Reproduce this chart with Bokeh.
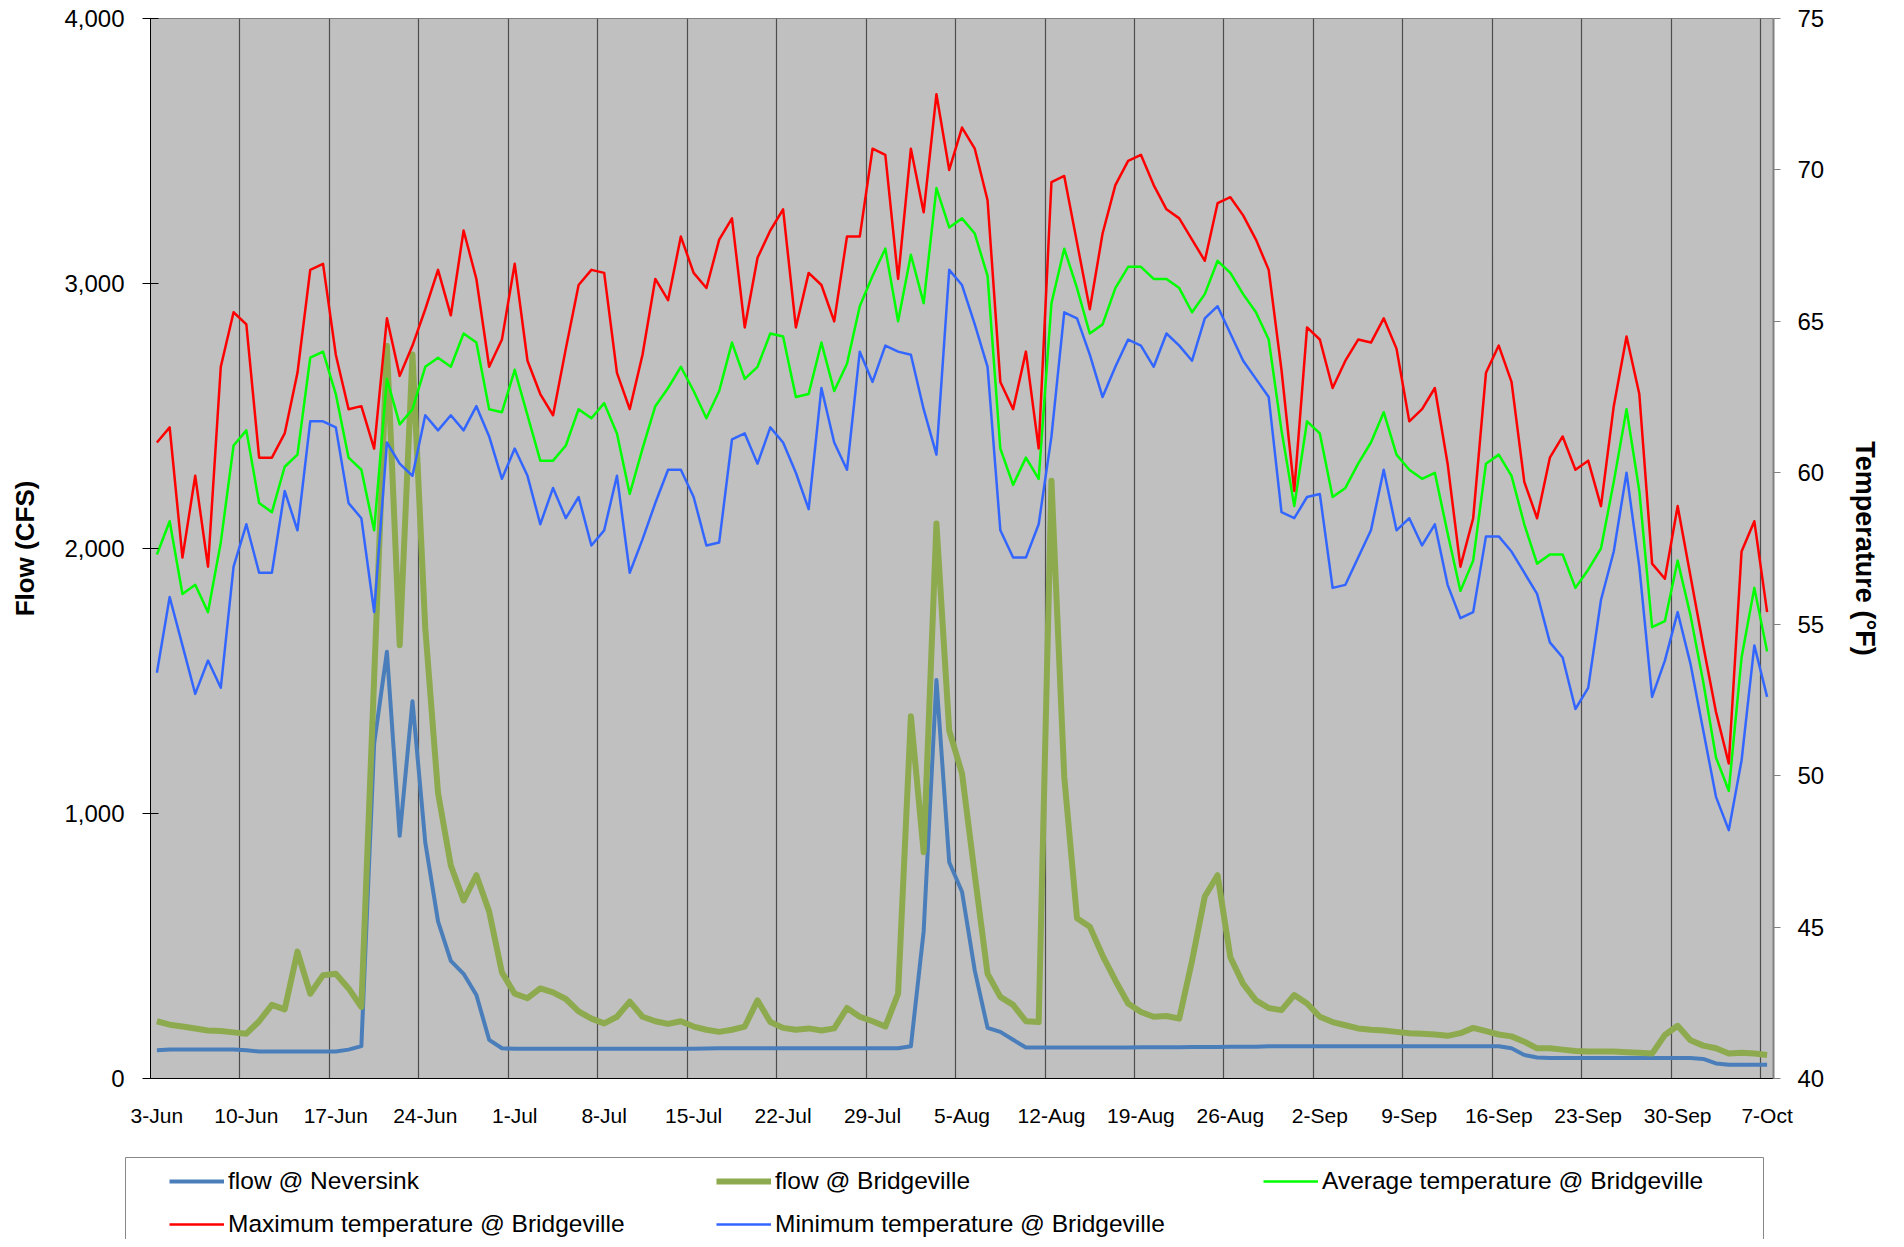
from bokeh.plotting import figure
from bokeh.models import (Range1d, LinearAxis, FixedTicker, NumeralTickFormatter,
                          Legend, LegendItem)
from bokeh.layouts import column
from bokeh.embed import file_html
from bokeh.resources import INLINE

# ---- data (daily, 3-Jun .. 7-Oct, 127 days) ----
tick_labels = ["3-Jun", "10-Jun", "17-Jun", "24-Jun", "1-Jul", "8-Jul", "15-Jul", "22-Jul",
               "29-Jul", "5-Aug", "12-Aug", "19-Aug", "26-Aug", "2-Sep", "9-Sep", "16-Sep",
               "23-Sep", "30-Sep", "7-Oct"]

flow_neversink = [107, 109, 109, 109, 109, 109, 109, 107, 102, 102,
                  102, 102, 102, 102, 102, 109, 122, 1263, 1610, 916,
                  1424, 891, 593, 444, 395, 315, 146, 114, 112, 112,
                  112, 112, 112, 112, 112, 112, 112, 112, 112, 112,
                  112, 112, 112, 113, 114, 114, 114, 114, 114, 114,
                  114, 114, 114, 114, 114, 114, 114, 114, 114, 122,
                  556, 1504, 816, 705, 407, 191, 176, 146, 117, 117,
                  117, 117, 117, 117, 117, 117, 117, 118, 118, 118,
                  118, 119, 119, 119, 120, 120, 120, 122, 122, 122,
                  122, 122, 122, 122, 122, 122, 122, 122, 122, 122,
                  122, 122, 122, 122, 122, 122, 114, 89, 79, 77,
                  77, 77, 77, 77, 77, 77, 77, 77, 77, 77,
                  77, 74, 57, 52, 52, 52, 52]

flow_bridgeville = [216, 203, 196, 189, 181, 179, 174, 169, 216, 278,
                    261, 479, 320, 390, 395, 340, 270, 1510, 2764, 1635,
                    2732, 1700, 1077, 804, 672, 767, 630, 400, 320, 303,
                    340, 325, 300, 253, 226, 208, 233, 290, 233, 216,
                    206, 216, 196, 184, 176, 184, 196, 295, 213, 191,
                    184, 189, 181, 189, 266, 233, 216, 196, 320, 1367,
                    854, 2094, 1313, 1151, 767, 395, 308, 278, 216, 213,
                    2256, 1139, 605, 573, 464, 370, 283, 251, 233, 236,
                    226, 444, 687, 767, 457, 357, 295, 266, 258, 315,
                    283, 233, 213, 201, 189, 184, 181, 176, 171, 169,
                    166, 161, 171, 191, 179, 166, 159, 139, 114, 114,
                    109, 104, 102, 102, 102, 99, 97, 94, 164, 199,
                    144, 124, 114, 94, 97, 94, 89]

temp_avg = [57.3, 58.4, 56.0, 56.3, 55.4, 57.7, 60.9, 61.4, 59.0, 58.7,
            60.2, 60.6, 63.8, 64.0, 62.6, 60.5, 60.1, 58.1, 63.1, 61.6,
            62.1, 63.5, 63.8, 63.5, 64.6, 64.3, 62.1, 62.0, 63.4, 61.9,
            60.4, 60.4, 60.9, 62.1, 61.8, 62.3, 61.3, 59.3, 60.8, 62.2,
            62.8, 63.5, 62.7, 61.8, 62.7, 64.3, 63.1, 63.5, 64.6, 64.5,
            62.5, 62.6, 64.3, 62.7, 63.6, 65.5, 66.5, 67.4, 65.0, 67.2,
            65.6, 69.4, 68.1, 68.4, 67.9, 66.5, 60.8, 59.6, 60.5, 59.8,
            65.6, 67.4, 66.1, 64.6, 64.9, 66.1, 66.8, 66.8, 66.4, 66.4,
            66.1, 65.3, 65.9, 67.0, 66.6, 65.9, 65.3, 64.4, 61.4, 58.9,
            61.7, 61.3, 59.2, 59.5, 60.3, 61.0, 62.0, 60.6, 60.1, 59.8,
            60.0, 58.0, 56.1, 57.1, 60.3, 60.6, 59.9, 58.3, 57.0, 57.3,
            57.3, 56.2, 56.8, 57.5, 59.7, 62.1, 59.4, 54.9, 55.1, 57.1,
            55.3, 53.1, 50.6, 49.5, 53.9, 56.2, 54.1]

temp_max = [61.0, 61.5, 57.2, 59.9, 56.9, 63.5, 65.3, 64.9, 60.5, 60.5,
            61.3, 63.3, 66.7, 66.9, 63.9, 62.1, 62.2, 60.8, 65.1, 63.2,
            64.2, 65.4, 66.7, 65.2, 68.0, 66.4, 63.5, 64.4, 66.9, 63.7,
            62.6, 61.9, 64.1, 66.2, 66.7, 66.6, 63.3, 62.1, 63.9, 66.4,
            65.7, 67.8, 66.6, 66.1, 67.7, 68.4, 64.8, 67.1, 68.0, 68.7,
            64.8, 66.6, 66.2, 65.0, 67.8, 67.8, 70.7, 70.5, 66.4, 70.7,
            68.6, 72.5, 70.0, 71.4, 70.7, 69.0, 63.0, 62.1, 64.0, 60.8,
            69.6, 69.8, 67.6, 65.4, 67.9, 69.5, 70.3, 70.5, 69.5, 68.7,
            68.4, 67.7, 67.0, 68.9, 69.1, 68.5, 67.7, 66.7, 63.4, 59.4,
            64.8, 64.4, 62.8, 63.7, 64.4, 64.3, 65.1, 64.1, 61.7, 62.1,
            62.8, 60.3, 56.9, 58.5, 63.3, 64.2, 63.0, 59.7, 58.5, 60.5,
            61.2, 60.1, 60.4, 58.9, 62.2, 64.5, 62.6, 57.0, 56.5, 58.9,
            56.6, 54.3, 52.1, 50.4, 57.4, 58.4, 55.4]

temp_min = [53.4, 55.9, 54.3, 52.7, 53.8, 52.9, 56.9, 58.3, 56.7, 56.7,
            59.4, 58.1, 61.7, 61.7, 61.5, 59.0, 58.5, 55.4, 61.0, 60.3,
            59.9, 61.9, 61.4, 61.9, 61.4, 62.2, 61.2, 59.8, 60.8, 59.9,
            58.3, 59.5, 58.5, 59.2, 57.6, 58.1, 59.9, 56.7, 57.8, 59.0,
            60.1, 60.1, 59.2, 57.6, 57.7, 61.1, 61.3, 60.3, 61.5, 61.0,
            60.0, 58.8, 62.8, 61.0, 60.1, 64.0, 63.0, 64.2, 64.0, 63.9,
            62.1, 60.6, 66.7, 66.2, 64.9, 63.5, 58.1, 57.2, 57.2, 58.3,
            61.2, 65.3, 65.1, 63.9, 62.5, 63.5, 64.4, 64.2, 63.5, 64.6,
            64.2, 63.7, 65.1, 65.5, 64.6, 63.7, 63.1, 62.5, 58.7, 58.5,
            59.2, 59.3, 56.2, 56.3, 57.2, 58.1, 60.1, 58.1, 58.5, 57.6,
            58.3, 56.3, 55.2, 55.4, 57.9, 57.9, 57.4, 56.7, 56.0, 54.4,
            53.9, 52.2, 52.9, 55.8, 57.4, 60.0, 56.9, 52.6, 53.8, 55.4,
            53.7, 51.5, 49.3, 48.2, 50.5, 54.3, 52.6]

flow_ticks = [0, 1000, 2000, 3000, 4000]
temp_ticks = [40, 45, 50, 55, 60, 65, 70, 75]

series_names = ["flow @ Neversink", "flow @ Bridgeville", "Average temperature @ Bridgeville",
                "Maximum temperature @ Bridgeville", "Minimum temperature @ Bridgeville"]
series_colors = ["#4A7EBB", "#8DAA4E", "#00FF00", "#FF0000", "#3366FF"]
series_widths = [4, 6, 2.5, 2.5, 2.5]

n_days = len(temp_avg)
day = list(range(n_days))
label_days = [7 * k for k in range(len(tick_labels))]
boundaries = [d - 0.5 for d in label_days[1:]]

FONT = "Liberation Sans"
W = 1888
H_MAIN = 1140
H_LEG = 99

p = figure(width=W, height=H_MAIN, title=None,
           x_range=Range1d(-0.5, n_days - 0.5), y_range=Range1d(0, 4000),
           output_backend="svg", toolbar_location=None,
           min_border_left=150, min_border_right=115,
           min_border_top=18, min_border_bottom=H_MAIN - 1078)
p.frame_align = False
p.extra_y_ranges = {"temp": Range1d(40, 75)}
p.background_fill_color = "#C0C0C0"
p.border_fill_color = "white"
p.outline_line_color = "#808080"
p.outline_line_width = 1

# grid: vertical lines at category boundaries every 7 days
p.ygrid.visible = False
p.xgrid.ticker = FixedTicker(ticks=boundaries)
p.xgrid.grid_line_color = "#4D4D4D"
p.xgrid.grid_line_width = 1.2

# x axis
xa = p.xaxis[0]
xa.ticker = FixedTicker(ticks=label_days)
xa.major_label_overrides = {d: lab for d, lab in zip(label_days, tick_labels)}
xa.major_label_text_font = FONT
xa.major_label_text_font_size = "21px"
xa.major_label_text_color = "black"
xa.major_tick_out = 0
xa.major_tick_in = 0
xa.minor_tick_out = 0
xa.minor_tick_in = 0
xa.axis_line_color = "black"
xa.major_label_standoff = 25

# left axis
ya = p.yaxis[0]
ya.ticker = FixedTicker(ticks=flow_ticks)
ya.formatter = NumeralTickFormatter(format="0,0")
ya.major_label_text_font = FONT
ya.major_label_text_font_size = "24px"
ya.major_label_text_color = "black"
ya.major_tick_in = 8
ya.major_tick_out = 8
ya.major_tick_line_color = "black"
ya.minor_tick_out = 0
ya.minor_tick_in = 0
ya.axis_line_color = "black"
ya.major_label_standoff = 18
ya.axis_label = "Flow (CFS)"
ya.axis_label_text_font = FONT
ya.axis_label_text_font_style = "bold"
ya.axis_label_text_font_size = "26px"
ya.axis_label_text_color = "black"
ya.axis_label_standoff = 21

# right axis
ra = LinearAxis(y_range_name="temp", ticker=FixedTicker(ticks=temp_ticks))
ra.major_label_text_font = FONT
ra.major_label_text_font_size = "24px"
ra.major_label_text_color = "black"
ra.major_tick_in = 0
ra.major_tick_out = 7
ra.major_tick_line_color = "#808080"
ra.minor_tick_out = 0
ra.minor_tick_in = 0
ra.axis_line_color = "#808080"
ra.axis_line_width = 2
ra.major_label_standoff = 17
ra.axis_label = "Temperature (\u00b0F)"
ra.axis_label_text_font = FONT
ra.axis_label_text_font_style = "bold"
ra.axis_label_text_font_size = "27px"
ra.axis_label_text_color = "black"
ra.axis_label_standoff = 23
p.add_layout(ra, "right")

# series
series_y = [flow_neversink, flow_bridgeville, temp_avg, temp_max, temp_min]
for k, ys in enumerate(series_y):
    kw = {} if k < 2 else {"y_range_name": "temp"}
    p.line(day, ys, line_color=series_colors[k], line_width=series_widths[k],
           line_join="round", **kw)

# ---- legend strip below the chart ----
pl = figure(width=W, height=H_LEG, title=None,
            x_range=Range1d(0, W), y_range=Range1d(H_LEG, 0),
            output_backend="svg", toolbar_location=None,
            x_axis_location=None, y_axis_location=None,
            min_border=0, min_border_left=0, min_border_right=0,
            min_border_top=0, min_border_bottom=0)
pl.frame_align = False
pl.grid.visible = False
pl.outline_line_color = None
pl.background_fill_color = "white"
pl.border_fill_color = "white"

# legend frame (top edge at page y=1157; continues past the bottom)
pl.quad(left=[125], right=[1763], top=[1157 - H_MAIN], bottom=[H_LEG + 10],
        fill_color="white", line_color="#888888", line_width=1)

nan = float("nan")
items = []
for k, name in enumerate(series_names):
    r = pl.line([nan, nan], [nan, nan], line_color=series_colors[k],
                line_width=series_widths[k])
    items.append(LegendItem(label=name, renderers=[r]))

leg_row_h = 28
leg_spacing = 15
leg_glyph_w = 55
leg_h = 2 * leg_row_h + leg_spacing
leg_top = 1181 - H_MAIN - leg_row_h / 2
legend = Legend(items=items, orientation="horizontal", ncols=3,
                location=(169, H_LEG - leg_top - leg_h))
legend.label_text_font = FONT
legend.label_text_font_size = "24.5px"
legend.label_text_color = "black"
legend.glyph_width = leg_glyph_w
legend.glyph_height = leg_row_h
legend.label_height = leg_row_h
legend.label_width = 547 - leg_spacing - leg_glyph_w - 4
legend.label_standoff = 4
legend.spacing = leg_spacing
legend.padding = 0
legend.margin = 0
legend.border_line_color = None
legend.background_fill_alpha = 0
pl.add_layout(legend, "center")

layout = column(p, pl, spacing=0)
open("out.html", "w").write(file_html(layout, INLINE))
